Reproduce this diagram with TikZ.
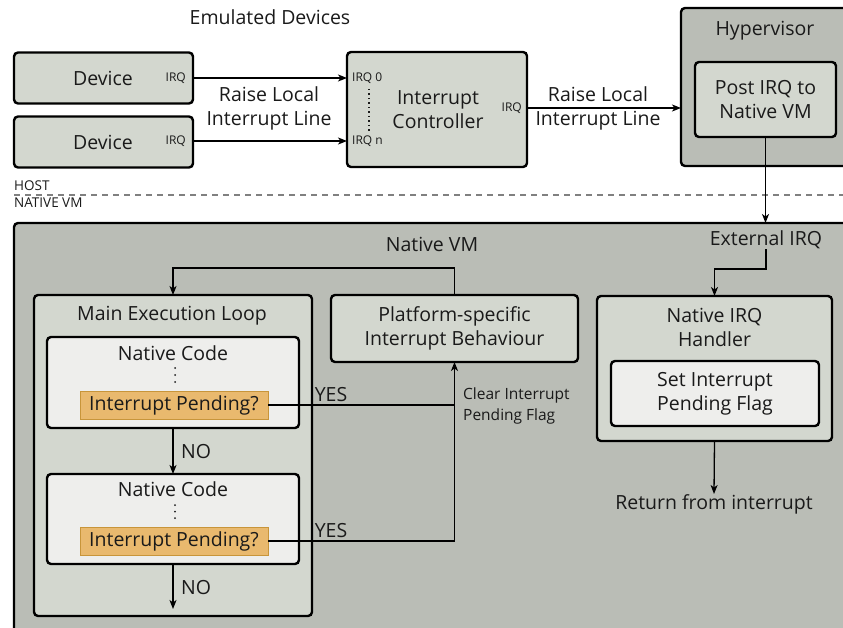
\documentclass[tikz,border=0pt]{standalone}
\usepackage{fontspec}
\setmainfont{Open Sans}
\usetikzlibrary{arrows.meta}
\definecolor{darkgr}{HTML}{BABDB6}
\definecolor{midgr}{HTML}{D3D7CF}
\definecolor{lightgr}{HTML}{EEEEEC}
\definecolor{orfill}{HTML}{E9B96E}
\definecolor{ordraw}{HTML}{C8953A}
\definecolor{txt}{HTML}{1A1A1A}
\tikzset{
  box/.style={draw=black, line width=2.4pt, rounded corners=4pt, inner sep=0pt, outer sep=0pt, text=txt},
  outerbox/.style={box, fill=darkgr},
  midbox/.style={box, fill=midgr},
  innerbox/.style={box, fill=lightgr},
  orbox/.style={draw=ordraw, line width=1pt, fill=orfill, inner sep=0pt, outer sep=0pt, text=txt, font=\fontsize{19.5}{23}\selectfont},
  lbl/.style={text=txt, inner sep=0pt, font=\fontsize{19.5}{24}\selectfont, align=center},
  small/.style={text=txt, inner sep=0pt, font=\fontsize{15.5}{21}\selectfont, align=left},
  tiny/.style={text=txt, inner sep=0pt, font=\fontsize{12}{14}\selectfont},
  conn/.style={draw=black, line width=1.3pt},
  arr/.style={conn, -{Stealth[length=9pt, width=7pt, inset=2.5pt]}},
  vdot/.style={fill=txt, draw=none},
}
\begin{document}
\begin{tikzpicture}[x=1pt, y=-1pt]
\useasboundingbox (0,0) rectangle (843,628);
\clip (0,0) rectangle (843,628);
% top area
\node[lbl] (emu) at (270,17) {Emulated Devices};
\node[midbox, minimum width=179pt, minimum height=51pt] (dev1) at (103.5,78) {};
\node[midbox, minimum width=179pt, minimum height=51pt] (dev2) at (103.5,142) {};
\node[lbl] (dev1t) at (103,78) {Device};
\node[lbl] (dev2t) at (103,142) {Device};
\node[tiny, anchor=east] (dev1irq) at (186,78) {IRQ};
\node[tiny, anchor=east] (dev2irq) at (186,141) {IRQ};
\node[midbox, minimum width=180pt, minimum height=115pt] (ic) at (437,109.5) {};
\node[lbl] (ict) at (438,110) {Interrupt\\Controller};
\node[tiny, anchor=west] (irq0) at (352,78) {IRQ 0};
\node[tiny, anchor=west] (irqn) at (352,141) {IRQ n};
\coordinate (dtop) at (369,89);
\coordinate (dbot) at (369,131);
\draw[line width=1.2pt, dash pattern=on 1.2pt off 3.3pt, txt] (dtop) -- (dbot);
\node[tiny, anchor=east] (icirq) at (522,108) {IRQ};
\node[outerbox, minimum width=219pt, minimum height=158pt] (hv) at (790.5,87) {};
\node[lbl] (hvt) at (765,31) {Hypervisor};
\node[midbox, minimum width=141pt, minimum height=75pt] (post) at (765.5,99.5) {};
\node[lbl] (postt) at (765.5,100) {Post IRQ to\\Native VM};
\draw[arr] (dev1.east) -- (dev1.east -| ic.west);
\draw[arr] (dev2.east |- irqn) -- (irqn -| ic.west);
\node[lbl] (rl1) at (269,108.5) {Raise Local\\Interrupt Line};
\coordinate (icout) at (527,108);
\draw[arr] (icout) -- (icout -| hv.west);
\node[lbl] (rl2) at (598,108) {Raise Local\\Interrupt Line};
% host / native split
\node[tiny, anchor=west, font=\fontsize{13.5}{15}\selectfont] (host) at (14,186) {HOST};
\node[tiny, anchor=west, font=\fontsize{13.5}{15}\selectfont] (nvmlbl) at (14,203) {NATIVE VM};
\coordinate (dl) at (14,195);
\coordinate (dr) at (843,195);
\draw[gray, line width=1.2pt, dash pattern=on 6pt off 5pt] (dl) -- (dr);
% native VM
\node[outerbox, minimum width=886pt, minimum height=477pt] (nvm) at (457,461.5) {};
\draw[arr] (post.south) -- (post.south |- nvm.north);
\node[lbl] (nvmt) at (432,244) {Native VM};
\node[lbl] (ext) at (766,240) {External IRQ};
\coordinate (extb) at (766,269);
% main execution loop
\node[midbox, minimum width=278pt, minimum height=321pt] (mel) at (173,455.5) {};
\node[lbl] (melt) at (172,316) {Main Execution Loop};
\node[innerbox, minimum width=252pt, minimum height=91pt] (nc1) at (173,382.5) {};
\node[lbl] (nc1t) at (173,353) {Native Code};
\fill[vdot] (175,368) circle (1pt) (175,375) circle (1pt) (175,382) circle (1pt);
\node[orbox, minimum width=188pt, minimum height=28pt] (ip1) at (174,405) {Interrupt Pending?};
\node[innerbox, minimum width=252pt, minimum height=90pt] (nc2) at (173,519) {};
\node[lbl] (nc2t) at (173,489) {Native Code};
\fill[vdot] (175,505) circle (1pt) (175,511.5) circle (1pt) (175,518) circle (1pt);
\node[orbox, minimum width=188pt, minimum height=28pt] (ip2) at (174,541) {Interrupt Pending?};
\draw[arr] (nc1.south) -- (nc2.north);
\node[lbl] (no1) at (196,452) {NO};
\coordinate (noend) at (173,609);
\draw[arr] (nc2.south) -- (noend);
\node[lbl] (no2) at (196,588) {NO};
% platform-specific
\node[midbox, minimum width=247pt, minimum height=67pt] (ps) at (454.5,328.5) {};
\node[lbl] (pst) at (454.5,328.5) {Platform-specific\\Interrupt Behaviour};
\coordinate (ltop) at (300,268);
\draw[arr] (ps.north) |- (ltop) -| (mel.north);
\draw[conn] (ip1.east) -- (ip1.east -| ps.south);
\draw[arr] (ip2.east) -| (ps.south);
\node[lbl] (yes1) at (331,395) {YES};
\node[lbl] (yes2) at (331,531) {YES};
\node[small, anchor=west] (clr) at (463,405.5) {Clear Interrupt\\Pending Flag};
% native IRQ handler
\node[midbox, minimum width=235pt, minimum height=145pt] (nih) at (714.5,368.5) {};
\node[lbl] (niht) at (714.5,327) {Native IRQ\\Handler};
\node[innerbox, minimum width=208pt, minimum height=65pt] (sipf) at (715,393.5) {};
\node[lbl] (sipft) at (715,393.5) {Set Interrupt\\Pending Flag};
\draw[arr] (ext.south) -- (extb) -| (nih.north);
\node[lbl] (ret) at (714,504) {Return from interrupt};
\draw[arr] (nih.south) -- (ret.north);
\end{tikzpicture}
\end{document}
